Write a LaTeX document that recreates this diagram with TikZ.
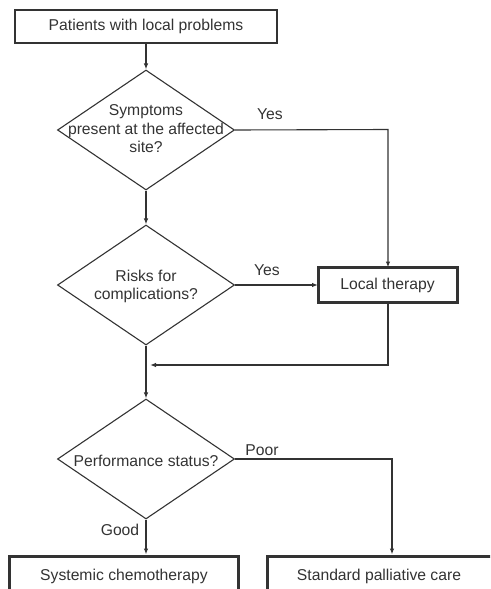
\documentclass[tikz,border=0pt]{standalone}
\usepackage{fontspec}
\setmainfont{Liberation Sans}
\usetikzlibrary{shapes.geometric,arrows.meta}
\definecolor{ink}{HTML}{333333}
\begin{document}
\begin{tikzpicture}[x=1pt,y=-1pt,
  every node/.style={text=ink,font=\fontsize{15.7}{18}\selectfont},
  conn/.style={draw=ink,line width=1.1pt},
  arr/.style={conn,-{Latex[length=6pt,width=4.5pt]}},
  dia/.style={diamond,draw=ink,line width=1.1pt,minimum width=177pt,minimum height=120pt,inner sep=0pt},
  thinbox/.style={draw=ink,line width=1.3pt,fill=white},
  thickbox/.style={draw=ink,line width=3pt,fill=white},
  lbl/.style={inner sep=1pt}]
\useasboundingbox (0,0) rectangle (490,589);
\clip (0,0) rectangle (490,589);
% top box
\draw[thinbox] (15,10) rectangle (277,43);
\node (top) at (146,26.5) {Patients with local problems};
\coordinate (topb) at (146,43);
% diamonds
\node[dia] (d1) at (146,130) {};
\node[align=center,font=\fontsize{15.7}{18.5}\selectfont] at (146,129) {Symptoms\\present at the affected\\site?};
\node[dia] (d2) at (146,285) {};
\node[align=center,font=\fontsize{15.7}{18}\selectfont] at (146,286) {Risks for\\complications?};
\node[dia] (d3) at (146,459) {};
\node at (146,461) {Performance status?};
% local therapy
\draw[thickbox] (318,267.5) rectangle (457,302.5);
\node (lt) at (387.5,285) {Local therapy};
\coordinate (ltt) at (388,267.5);
\coordinate (ltl) at (318,285);
\coordinate (ltb) at (388,302.5);
% bottom boxes
\draw[thickbox] (9.5,556) rectangle (238,620);
\node (sc) at (124,576) {Systemic chemotherapy};
\draw[thickbox] (267,556) rectangle (520,620);
\node (sp) at (379,576) {Standard palliative care};
\coordinate (sct) at (146,554.5);
\coordinate (spt) at (392,554.5);
% connectors
\draw[arr] (topb) -- (d1.north);
\draw[arr] (d1.east) -- (388,129.5) -- (ltt);
\node[lbl] at (270,114) {Yes};
\draw[arr] (d1.south) -- (d2.north);
\draw[arr] (d2.east) -- (ltl);
\node[lbl] at (267,270) {Yes};
\coordinate (merge) at (150,365);
\draw[arr] (ltb) -- (388,365) -- (merge);
\draw[arr] (d2.south) -- (d3.north);
\draw[arr] (d3.south) -- (sct);
\node[lbl] at (120,530) {Good};
\draw[arr] (d3.east) -- (392,459) -- (spt);
\node[lbl] at (262,450) {Poor};
\end{tikzpicture}
\end{document}
